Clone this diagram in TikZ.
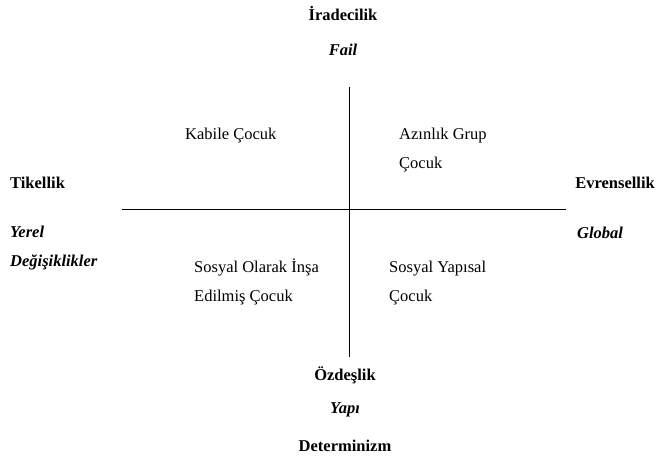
\documentclass[tikz,border=0pt]{standalone}
\usepackage{fontspec}
\setmainfont{Liberation Serif}
\begin{document}
\begin{tikzpicture}[x=1pt, y=-1pt,
        lbl/.style={inner sep=0pt, font=\fontsize{16.5}{29}\selectfont},
        pole/.style={lbl, font=\fontsize{16.5}{29}\selectfont\bfseries},
        sub/.style={lbl, font=\fontsize{16.5}{29}\selectfont\bfseries\itshape},
        quad/.style={lbl, align=left, anchor=base west},
        axis/.style={line width=0.8pt}
    ]
        \useasboundingbox (0,0) rectangle (657,463);

        % poles
        \node[pole] (will) at (343,14) {İradecilik};
        \node[sub] (fail) at (343,50) {Fail};
        \node[pole, anchor=mid west] (part) at (10,186) {Tikellik};
        \node[sub, anchor=mid west] (local) at (10,235) {Yerel};
        \node[sub, anchor=mid west] (change) at (10,264) {Değişiklikler};
        \node[pole, anchor=mid east] (univ) at (655,186) {Evrensellik};
        \node[sub, anchor=mid west] (glob) at (577,236) {Global};
        \node[pole] (ident) at (345,375) {Özdeşlik};
        \node[sub] (struct) at (345,410) {Yapı};
        \node[pole] (determ) at (345,446) {Determinizm};

        % quadrants (base = last line)
        \node[quad] (tribal) at (185,139) {Kabile Çocuk};
        \node[quad] (minority) at (399,168) {Azınlık Grup\\Çocuk};
        \node[quad] (constr) at (194,301) {Sosyal Olarak İnşa\\Edilmiş Çocuk};
        \node[quad] (sstruct) at (389,301) {Sosyal Yapısal\\Çocuk};

        % axes
        \coordinate (top) at (349,87);
        \coordinate (bottom) at (349,357);
        \coordinate (left) at (122,209);
        \coordinate (right) at (566,209);
        \draw[axis] (top) -- (bottom);
        \draw[axis] (left) -- (right);
    \end{tikzpicture}
\end{document}
